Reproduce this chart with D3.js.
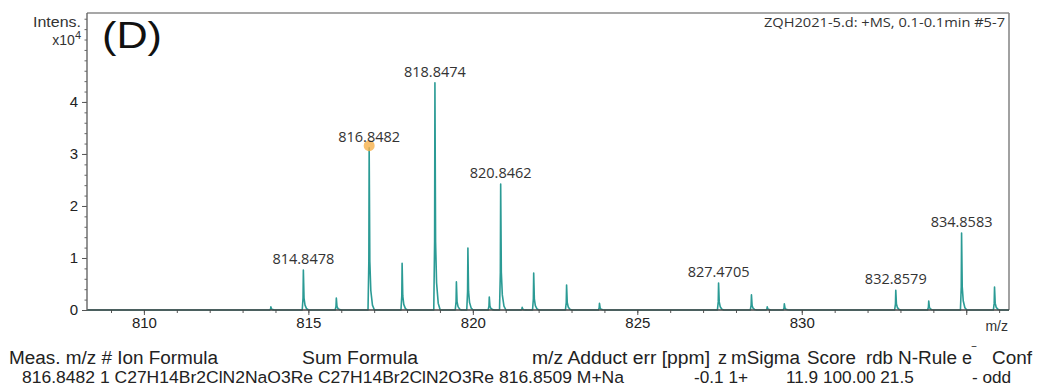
<!DOCTYPE html>
<html><head><meta charset="utf-8">
<script src="https://cdn.jsdelivr.net/npm/d3@7"></script>
<style>
html,body{margin:0;padding:0;background:#fff;}
svg{display:block;}
</style></head>
<body>
<svg id="chart" width="1038" height="392"></svg>
<script>
// ---- data ----
const peakMz   = [813.86, 814.8478, 815.85, 816.8482, 817.85, 818.8474, 819.50, 819.85, 820.50, 820.8462, 821.50, 821.85, 822.85, 823.85, 827.4705, 828.47, 828.95, 829.47, 832.8579, 833.86, 834.8583, 835.86];
const peakInt  = [0.06,   0.77,     0.23,   3.12,     0.90,   4.37,     0.54,   1.19,   0.25,   2.42,     0.05,   0.71,   0.48,   0.13,   0.52,     0.29,   0.06,   0.12,   0.38,     0.17,   1.48,     0.44];
const labeledPeaks = ["814.8478","816.8482","818.8474","820.8462","827.4705","832.8579","834.8583"];
const xTickLabels = [810, 815, 820, 825, 830];
const yTickLabels = [0, 1, 2, 3, 4];
const highlightMz = 816.8482;
const headerCells = ["Meas. m/z # Ion Formula", "Sum Formula", "m/z Adduct err [ppm]", "z", "mSigma", "Score", "rdb", "N-Rule", "e", "Conf"];
const rowCells = ["816.8482 1 C27H14Br2ClN2NaO3Re C27H14Br2ClN2O3Re 816.8509 M+Na", "-0.1 1+", "11.9 100.00 21.5", "- odd"];
const titleText = "ZQH2021-5.d: +MS, 0.1-0.1min #5-7";

// ---- layout ----
const svg = d3.select("#chart");
const L = 87, R = 1009, T = 13, B = 310;
const x = d3.scaleLinear().domain([808.27, 836.30]).range([L, R]);
const y = d3.scaleLinear().domain([0, 5.71]).range([B, T]);
const sans = "'Liberation Sans', Arial, sans-serif";
const cal = "'Open Sans', 'Noto Sans', sans-serif";
const teal = "#2b9b95";

// frame
svg.append("line").attr("x1", L).attr("x2", R).attr("y1", T).attr("y2", T).attr("stroke", "#8a8a8a").attr("stroke-width", 1.6);
svg.append("line").attr("x1", R).attr("x2", R).attr("y1", T).attr("y2", B).attr("stroke", "#8a8a8a").attr("stroke-width", 1.6);

// spectrum line
const pts = [[x.domain()[0], 0]];
peakMz.forEach((m, i) => {
  const h = peakInt[i];
  pts.push([m - 0.035, 0], [m - 0.01, h * 0.3], [m, h], [m + 0.02, h * 0.3], [m + 0.05, h * 0.12], [m + 0.1, h * 0.03], [m + 0.16, 0]);
});
pts.push([x.domain()[1], 0]);
svg.append("path")
  .attr("d", d3.line().x(d => x(d[0])).y(d => y(d[1]))(pts))
  .attr("fill", "none").attr("stroke", teal).attr("stroke-width", 1.6).attr("stroke-linejoin", "round");

// axes
const xMinor = d3.range(809, 837, 1);
svg.append("g").attr("transform", `translate(0,${B})`)
  .call(d3.axisBottom(x).tickValues(xMinor).tickSize(3).tickFormat(""))
  .call(g => { g.select(".domain").remove(); g.selectAll("line").attr("stroke", "#555"); });
svg.append("g").attr("transform", `translate(0,${B})`)
  .call(d3.axisBottom(x).tickValues(xTickLabels.concat([835])).tickSize(5).tickFormat(d => xTickLabels.includes(d) ? d : ""))
  .call(g => {
    g.select(".domain").remove();
    g.selectAll("line").attr("stroke", "#555");
    g.selectAll("text").attr("font-family", sans).attr("font-size", 15).attr("fill", "#222").attr("dy", "0.95em").attr("y", 4);
  });
svg.append("line").attr("x1", L).attr("x2", R).attr("y1", B).attr("y2", B).attr("stroke", "#444").attr("stroke-width", 1.4);

const yMinor = d3.range(0, 5.7, 0.2);
svg.append("g").attr("transform", `translate(${L},0)`)
  .call(d3.axisLeft(y).tickValues(yMinor).tickSize(2.5).tickFormat(""))
  .call(g => { g.select(".domain").remove(); g.selectAll("line").attr("stroke", "#666"); });
svg.append("g").attr("transform", `translate(${L},0)`)
  .call(d3.axisLeft(y).tickValues(yTickLabels).tickSize(5).tickFormat(d3.format("d")))
  .call(g => {
    g.select(".domain").remove();
    g.selectAll("line").attr("stroke", "#555");
    g.selectAll("text").attr("font-family", sans).attr("font-size", 15).attr("fill", "#222").attr("x", -9);
  });
svg.append("line").attr("x1", L).attr("x2", L).attr("y1", T).attr("y2", B).attr("stroke", "#666").attr("stroke-width", 1.4);

// highlight dot
const hi = peakMz.indexOf(highlightMz);
svg.append("circle").attr("cx", x(peakMz[hi])).attr("cy", y(peakInt[hi]) - 2).attr("r", 5.5)
  .attr("fill", "#f6b04a").attr("fill-opacity", 0.8);

// peak labels
peakMz.forEach((m, i) => {
  const s = m.toFixed(4);
  if (!labeledPeaks.includes(s)) return;
  svg.append("text").attr("x", x(m)).attr("y", y(peakInt[i]) - 6)
    .attr("text-anchor", "middle").attr("font-family", cal).attr("font-size", 14.5)
    .attr("fill", "#333").text(s);
});

// axis titles
svg.append("text").attr("x", 81).attr("y", 27).attr("text-anchor", "end").attr("font-family", sans)
  .attr("font-size", 14).attr("fill", "#333").attr("textLength", 48).attr("lengthAdjust", "spacingAndGlyphs").text("Intens.");
const xt = svg.append("text").attr("x", 81).attr("y", 45).attr("text-anchor", "end").attr("font-family", sans)
  .attr("font-size", 14).attr("fill", "#333");
xt.append("tspan").text("x10");
xt.append("tspan").attr("dy", -6).attr("font-size", 11).text("4");
svg.append("text").attr("x", 1008).attr("y", 331).attr("text-anchor", "end").attr("font-family", sans)
  .attr("font-size", 14).attr("fill", "#333").text("m/z");

// panel letter
svg.append("text").attr("x", 102).attr("y", 48).attr("font-family", sans).attr("font-size", 37)
  .attr("fill", "#111").attr("textLength", 60).attr("lengthAdjust", "spacingAndGlyphs").text("(D)");

// top right title
svg.append("text").attr("x", 1005).attr("y", 27).attr("text-anchor", "end").attr("font-family", cal)
  .attr("font-size", 12.5).attr("fill", "#333").attr("textLength", 241).attr("lengthAdjust", "spacingAndGlyphs").text(titleText);

// table
const hdrX = [9, 302, 532, 718, 731, 807, 866, 898, 962, 992];
const hdrW = [209, 116, 178, 0, 69, 49, 27, 59, 0, 40];
headerCells.forEach((t, i) => {
  const el = svg.append("text").attr("x", hdrX[i]).attr("y", 364).attr("font-family", sans)
    .attr("font-size", 18).attr("fill", "#222");
  if (t === "e") {
    el.append("tspan").text("e");
    el.append("tspan").attr("dy", -8).attr("font-size", 12).text("‾");
  } else if (hdrW[i] > 0) {
    el.attr("textLength", hdrW[i]).attr("lengthAdjust", "spacingAndGlyphs").text(t);
  } else {
    el.text(t);
  }
});
const rowX = [22, 694, 786, 972];
const rowW = [602, 0, 0, 0];
rowCells.forEach((t, i) => {
  const el = svg.append("text").attr("x", rowX[i]).attr("y", 383).attr("font-family", sans)
    .attr("font-size", 17.2).attr("fill", "#222").text(t);
  if (rowW[i] > 0) el.attr("textLength", rowW[i]).attr("lengthAdjust", "spacingAndGlyphs");
});
</script>
</body></html>
